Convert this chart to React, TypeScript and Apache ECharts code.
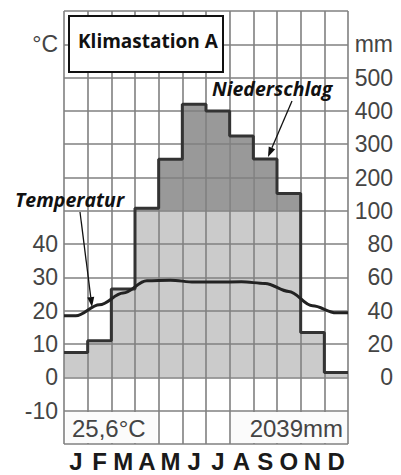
import React, { useEffect, useRef } from "react";
import * as echarts from "echarts";

const months = ["J", "F", "M", "A", "M", "J", "J", "A", "S", "O", "N", "D"];
const precipMm = [15, 22, 53, 108, 255, 420, 400, 325, 256, 152, 27, 3];
const tempC = [18.5, 21.8, 25.3, 29.0, 29.2, 28.6, 28.6, 28.7, 28.2, 25.8, 21.5, 19.4];
const leftTickValues = [-10, 0, 10, 20, 30, 40];
const rightTickValues = [0, 10, 20, 30, 40, 50, 60, 70, 80, 90];
const stationName = "Klimastation A";
const meanTemp = "25,6°C";
const totalPrecip = "2039mm";

// mm -> temperature-scale (0..100mm: 2mm per °C, above: 10mm per °C)
const mmToScale = (mm: number) => (mm <= 100 ? mm / 2 : 50 + (mm - 100) / 10);
const scaleToMm = (v: number) => (v <= 50 ? v * 2 : 100 + (v - 50) * 10);

const GRID = { left: 64, top: 11, width: 284, height: 433 };
const gridColor = "#808080";
const labelFont = "'Liberation Sans', Arial, sans-serif";

function arrow(x1: number, y1: number, x2: number, y2: number) {
  const dx = x2 - x1;
  const dy = y2 - y1;
  const len = Math.sqrt(dx * dx + dy * dy);
  const ux = dx / len;
  const uy = dy / len;
  const hl = 10;
  const hw = 3.5;
  const bx = x2 - ux * hl;
  const by = y2 - uy * hl;
  return [
    {
      type: "line",
      z: 30,
      shape: { x1, y1, x2: bx, y2: by },
      style: { stroke: "#111", lineWidth: 1.3 },
    },
    {
      type: "polygon",
      z: 30,
      shape: {
        points: [
          [x2, y2],
          [bx - uy * hw, by + ux * hw],
          [bx + uy * hw, by - ux * hw],
        ],
      },
      style: { fill: "#111" },
    },
  ];
}

export default function App() {
  const ref = useRef<HTMLDivElement>(null);
  useEffect(() => {
    if (!ref.current) return;
    const chart = echarts.init(ref.current, undefined, { renderer: "svg" });
    const scaled = precipMm.map(mmToScale);
    const lightPart = scaled.map((v) => Math.min(v, 50));
    const darkPart = scaled.map((v) => Math.max(v - 50, 0));
    const outline: number[][] = [];
    scaled.forEach((v, i) => {
      outline.push([i, v]);
      outline.push([i + 1, v]);
    });
    const tempLine: number[][] = [
      [0, tempC[0]],
      ...tempC.map((t, i) => [i + 0.5, t]),
      [12, tempC[tempC.length - 1]],
    ];

    const option: any = {
      animation: false,
      backgroundColor: "#ffffff",
      grid: { ...GRID, containLabel: false },
      xAxis: [
        {
          type: "category",
          data: months,
          boundaryGap: true,
          z: 5,
          axisLine: { show: false },
          axisTick: { show: false },
          axisLabel: {
            interval: 0,
            margin: 5,
            color: "#1a1a1a",
            fontFamily: "'Liberation Sans', Arial, sans-serif",
            fontWeight: "bold",
            fontSize: 24,
          },
          splitLine: {
            show: true,
            interval: 0,
            lineStyle: { color: gridColor, width: 1.6 },
          },
        },
        { type: "value", min: 0, max: 12, show: false },
      ],
      yAxis: [
        {
          type: "value",
          min: -20,
          max: 110,
          interval: 10,
          position: "left",
          z: 5,
          axisLine: { show: false },
          axisTick: { show: false },
          splitLine: { show: true, lineStyle: { color: gridColor, width: 1.6 } },
          axisLabel: {
            margin: 6,
            color: "#444",
            fontFamily: labelFont,
            fontSize: 23,
            showMinLabel: true,
            showMaxLabel: true,
            formatter: (v: number) =>
              leftTickValues.includes(v) ? String(v) : v === 100 ? "°C" : "",
          },
        },
        {
          type: "value",
          min: -20,
          max: 110,
          interval: 10,
          position: "right",
          z: 5,
          axisLine: { show: false },
          axisTick: { show: false },
          splitLine: { show: false },
          axisLabel: {
            margin: 45,
            align: "right",
            color: "#444",
            fontFamily: labelFont,
            fontSize: 23,
            formatter: (v: number) =>
              rightTickValues.includes(v) ? String(scaleToMm(v)) : v === 100 ? "mm" : "",
          },
        },
      ],
      series: [
        {
          type: "bar",
          xAxisIndex: 0,
          yAxisIndex: 0,
          stack: "p",
          barWidth: "100%",
          barCategoryGap: "0%",
          data: lightPart,
          itemStyle: { color: "#cbcbcb" },
          z: 2,
        },
        {
          type: "bar",
          xAxisIndex: 0,
          yAxisIndex: 0,
          stack: "p",
          barWidth: "100%",
          barCategoryGap: "0%",
          data: darkPart,
          itemStyle: { color: "#999999" },
          z: 2,
        },
        {
          type: "line",
          xAxisIndex: 1,
          yAxisIndex: 0,
          data: outline,
          symbol: "none",
          lineStyle: { color: "#333", width: 3 },
          z: 10,
        },
        {
          type: "line",
          xAxisIndex: 1,
          yAxisIndex: 0,
          data: tempLine,
          symbol: "none",
          smooth: 0.35,
          smoothMonotone: "x",
          lineStyle: { color: "#222", width: 3 },
          z: 11,
        },
      ],
      graphic: [
        {
          type: "rect",
          z: 20,
          shape: { x: 69, y: 16, width: 154, height: 56 },
          style: { fill: "#fff", stroke: "#111", lineWidth: 2 },
        },
        {
          type: "text",
          z: 21,
          x: 78,
          y: 41,
          style: {
            text: stationName,
            font: "bold 19px 'Open Sans', sans-serif",
            fill: "#111",
            align: "left",
            verticalAlign: "middle",
          },
        },
        {
          type: "text",
          z: 21,
          x: 15,
          y: 199,
          style: {
            text: "Temperatur",
            font: "italic bold 19.5px 'Open Sans', sans-serif",
            fill: "#111",
            align: "left",
            verticalAlign: "middle",
          },
        },
        {
          type: "text",
          z: 21,
          x: 212,
          y: 88,
          style: {
            text: "Niederschlag",
            font: "italic bold 19.5px 'Open Sans', sans-serif",
            fill: "#111",
            align: "left",
            verticalAlign: "middle",
          },
        },
        ...arrow(80, 212, 92, 307),
        ...arrow(292, 101, 268, 157),
        {
          type: "rect",
          z: 20,
          shape: { x: 66, y: 412, width: 91, height: 31 },
          style: { fill: "#fbfbfb" },
        },
        {
          type: "rect",
          z: 20,
          shape: { x: 231, y: 412, width: 116, height: 31 },
          style: { fill: "#fbfbfb" },
        },
        {
          type: "text",
          z: 21,
          x: 72,
          y: 428,
          style: {
            text: meanTemp,
            font: "24px " + labelFont,
            fill: "#444",
            align: "left",
            verticalAlign: "middle",
          },
        },
        {
          type: "text",
          z: 21,
          x: 343,
          y: 428,
          style: {
            text: totalPrecip,
            font: "24px " + labelFont,
            fill: "#444",
            align: "right",
            verticalAlign: "middle",
          },
        },
      ],
    };
    chart.setOption(option);
    return () => chart.dispose();
  }, []);
  return (
    <div
      ref={ref}
      style={{ position: "absolute", left: 0, top: 0, width: 401, height: 475 }}
    />
  );
}
